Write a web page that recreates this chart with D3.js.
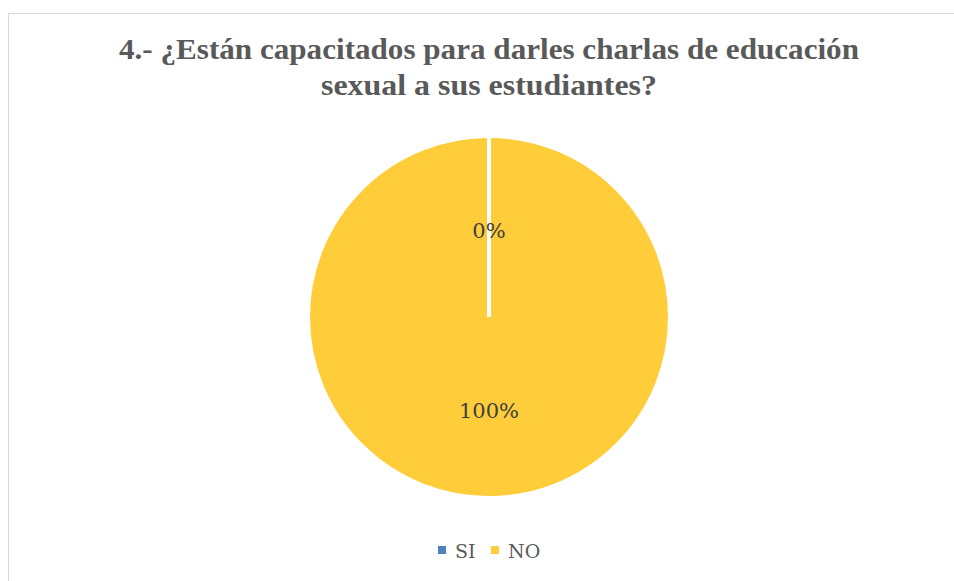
<!DOCTYPE html>
<html>
<head>
<meta charset="utf-8">
<script src="https://cdn.jsdelivr.net/npm/d3@7"></script>
<style>
  html, body { margin: 0; padding: 0; background: #ffffff; }
  svg { display: block; }
</style>
</head>
<body>
<svg id="chart" width="954" height="581"></svg>
<script>
const categories = ["SI", "NO"];
const values = [0, 100];
const labels = ["0%", "100%"];
const colors = ["#4F81BD", "#FFCC3A"];
const titleLines = ["4.- ¿Están capacitados para darles charlas de educación", "sexual a sus estudiantes?"];

const svg = d3.select("#chart");

// chart frame
svg.append("rect")
  .attr("x", 8.5).attr("y", 13.5)
  .attr("width", 1000).attr("height", 1000)
  .attr("fill", "#ffffff")
  .attr("stroke", "#D9D9D9").attr("stroke-width", 1);

const cx = 489, cy = 317, r = 180;

// title
const titleWidths = [740, 336];
titleLines.forEach((t, i) => {
  svg.append("text")
    .attr("x", cx)
    .attr("y", 59 + i * 36)
    .attr("text-anchor", "middle")
    .attr("font-family", "'Liberation Serif', 'DejaVu Serif', serif")
    .attr("font-weight", "bold")
    .attr("font-size", 30)
    .attr("fill", "#595959")
    .attr("textLength", titleWidths[i])
    .attr("lengthAdjust", "spacingAndGlyphs")
    .text(t);
});

const pie = d3.pie().sort(null).value(d => d)
  .startAngle(0).endAngle(2 * Math.PI);
const arcs = pie(values);
const arc = d3.arc().innerRadius(0).outerRadius(r);

const g = svg.append("g").attr("transform", `translate(${cx},${cy})`);

const order = arcs.map((a, i) => i).sort((a, b) => values[b] - values[a]);
order.forEach(i => {
  g.append("path")
    .attr("d", arc(arcs[i]))
    .attr("fill", colors[i])
    .attr("stroke", "#ffffff")
    .attr("stroke-width", values[i] === 0 ? 4 : 2)
    .attr("stroke-linejoin", "miter");
});

// data labels
arcs.forEach((a, i) => {
  let x, y;
  if (values[i] === 0) {
    const ang = a.startAngle;
    x = Math.sin(ang) * r * 0.48;
    y = -Math.cos(ang) * r * 0.48;
  } else {
    const mid = (a.startAngle + a.endAngle) / 2;
    x = Math.sin(mid) * r * 0.52;
    y = -Math.cos(mid) * r * 0.52;
  }
  g.append("text")
    .attr("x", x)
    .attr("y", y)
    .attr("dy", "0.35em")
    .attr("text-anchor", "middle")
    .attr("font-family", "'DejaVu Serif', 'Liberation Serif', serif")
    .attr("font-size", 21)
    .attr("fill", "#404040")
    .text(labels[i]);
});

// legend
const legend = svg.append("g");
const legendItems = [
  { x: 438, tx: 455 },
  { x: 491, tx: 508 }
];
categories.forEach((c, i) => {
  legend.append("rect")
    .attr("x", legendItems[i].x).attr("y", 546)
    .attr("width", 8).attr("height", 8)
    .attr("fill", colors[i]);
  legend.append("text")
    .attr("x", legendItems[i].tx).attr("y", 558)
    .attr("font-family", "'DejaVu Serif', 'Liberation Serif', serif")
    .attr("font-size", 19)
    .attr("fill", "#595959")
    .text(c);
});
</script>
</body>
</html>
